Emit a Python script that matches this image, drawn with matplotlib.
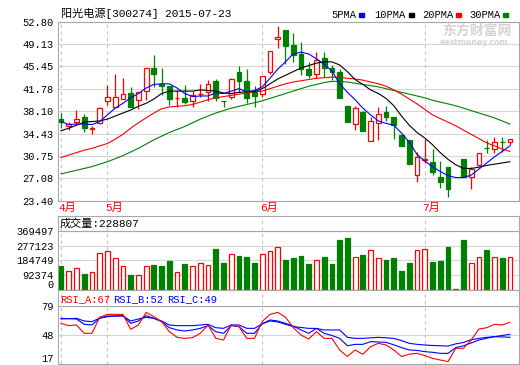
import matplotlib
matplotlib.use('Agg')
import matplotlib.pyplot as plt
from matplotlib.patches import Rectangle
import numpy as np

nan = np.nan

# 阳光电源[300274] 日K线, 截止 2015-07-23 (第51根为停牌日)
opens = [36.76, 35.75, 36.30, 37.12, 35.25, 36.10, 39.85, 38.85, 40.05, 41.03,
         39.94, 41.42, 45.20, 42.57, 42.24, 40.25, 40.32, 39.85, 40.90, 41.20,
         43.10, 39.80, 40.40, 44.55, 43.08, 41.30, 41.00, 44.59, 49.90, 51.44,
         48.97, 47.44, 45.03, 44.15, 46.78, 45.14, 44.59, 38.95, 36.00, 38.02,
         33.15, 36.11, 38.02, 37.09, 34.25, 33.40, 27.60, 30.15, 29.81, 27.35,
         28.99, nan, 30.25, 27.35, 29.20, 32.05, 31.83, 33.12, 32.98]
highs = [37.80, 36.38, 38.30, 37.64, 35.60, 38.74, 42.40, 44.20, 43.60, 42.02,
         41.20, 45.20, 47.33, 45.14, 42.24, 41.60, 42.40, 41.42, 42.50, 43.15,
         43.45, 39.80, 43.50, 45.50, 45.03, 42.20, 43.90, 47.99, 52.09, 51.44,
         50.90, 49.50, 46.24, 47.88, 47.88, 45.70, 45.03, 38.95, 38.95, 38.10,
         37.20, 38.84, 39.00, 37.20, 34.30, 33.45, 31.45, 33.48, 31.85, 29.97,
         28.99, nan, 30.25, 28.99, 31.18, 33.37, 33.80, 33.80, 33.48]
lows = [35.40, 35.01, 35.83, 34.65, 34.35, 36.00, 39.20, 38.85, 40.05, 38.74,
        38.41, 39.94, 42.13, 40.76, 39.12, 38.80, 39.30, 38.74, 40.50, 39.77,
        39.77, 38.85, 40.10, 41.20, 39.40, 38.84, 40.40, 44.15, 48.43, 45.80,
        46.24, 44.05, 43.50, 43.50, 43.77, 43.20, 40.32, 36.38, 35.00, 34.90,
        33.15, 33.37, 36.50, 33.55, 32.40, 29.37, 26.55, 29.60, 27.70, 25.54,
        23.95, nan, 27.30, 25.27, 29.10, 31.18, 31.18, 31.45, 32.55]
closes = [36.38, 35.95, 36.76, 35.29, 35.32, 38.57, 40.38, 40.45, 40.90, 38.85,
          41.20, 45.20, 44.15, 42.24, 40.05, 40.35, 39.67, 40.76, 41.00, 42.55,
          40.35, 39.75, 43.39, 43.10, 40.35, 40.65, 43.88, 47.99, 50.34, 48.86,
          47.33, 45.03, 44.05, 46.51, 45.25, 44.59, 40.35, 36.38, 38.57, 34.90,
          36.49, 37.64, 37.09, 35.83, 32.44, 29.37, 30.63, 30.25, 28.17, 26.53,
          25.32, nan, 27.35, 28.60, 31.18, 32.00, 32.98, 33.08, 33.48]
volumes = [147000, 120000, 139000, 101000, 114000, 232000, 244000, 202000, 152000, 90000,
           95000, 152000, 158000, 152000, 183000, 112000, 164000, 152000, 170000, 158000,
           259000, 170000, 227000, 215000, 208000, 170000, 225000, 246000, 272000, 189000,
           202000, 215000, 164000, 189000, 208000, 164000, 316000, 328000, 208000, 221000,
           253000, 202000, 189000, 202000, 120000, 170000, 253000, 259000, 177000, 183000,
           272000, 2500, 316000, 170000, 208000, 253000, 208000, 202000, 205000]

ma5 = [36.4, 35.9, 36.0, 36.0, 35.9, 36.4, 37.5, 38.6, 39.4, 40.3,
       41.0, 41.9, 42.5, 42.6, 42.6, 41.9, 41.0, 40.5, 40.6, 40.6,
       41.1, 41.0, 41.4, 41.8, 41.3, 41.5, 42.1, 43.5, 45.0, 46.2,
       47.5, 47.8, 47.5, 46.7, 45.8, 44.7, 42.6, 41.2, 40.0, 38.6,
       37.5, 36.5, 36.1, 35.8, 34.5, 33.0, 31.0, 29.9, 29.0, 28.2,
       27.5, 27.2, 27.2, 27.6, 28.6, 29.6, 30.6, 31.5, 32.4]
ma10 = [34.9, 35.3, 35.8, 36.3, 36.4, 36.5, 36.8, 37.3, 37.8, 38.3,
        38.9, 39.4, 40.1, 41.0, 41.4, 41.4, 41.4, 41.4, 41.6, 41.5,
        41.4, 41.1, 41.0, 41.2, 41.3, 41.3, 41.8, 42.6, 43.4, 44.0,
        44.6, 45.2, 45.6, 46.0, 46.2, 46.2, 45.7, 44.6, 43.3, 42.5,
        41.6, 41.0, 40.2, 39.0, 37.3, 35.8, 34.6, 33.7, 32.6, 31.3,
        30.2, 29.3, 28.7, 28.7, 28.9, 29.2, 29.4, 29.6, 29.8]
ma20 = [30.5, 30.9, 31.3, 31.7, 32.0, 32.4, 32.8, 33.5, 34.3, 35.3,
        36.2, 37.0, 37.8, 38.5, 38.8, 38.9, 39.0, 39.2, 39.6, 40.0,
        40.3, 40.5, 40.7, 40.9, 41.1, 41.3, 41.4, 41.8, 42.2, 42.6,
        42.9, 43.1, 43.3, 43.5, 43.6, 43.7, 43.7, 43.5, 43.4, 43.2,
        42.9, 42.6, 42.2, 41.6, 40.9, 40.1, 39.3, 38.4, 37.5, 36.9,
        36.3, 35.7, 35.0, 34.3, 33.6, 32.9, 32.4, 31.9, 31.5]
ma30 = [27.8, 28.1, 28.4, 28.7, 29.0, 29.4, 29.8, 30.3, 30.8, 31.4,
        32.0, 32.7, 33.4, 34.0, 34.6, 35.1, 35.6, 36.2, 36.8, 37.3,
        37.8, 38.2, 38.6, 38.9, 39.2, 39.5, 39.8, 40.2, 40.6, 41.0,
        41.4, 41.8, 42.2, 42.5, 42.8, 43.0, 43.0, 42.9, 42.7, 42.5,
        42.3, 42.1, 41.8, 41.5, 41.2, 40.9, 40.6, 40.3, 39.9, 39.6,
        39.3, 39.0, 38.6, 38.2, 37.8, 37.4, 37.0, 36.5, 36.0]

rsi_a = [60.4, 58.0, 58.7, 49.8, 49.8, 67.0, 70.1, 70.1, 70.1, 54.1,
         58.7, 72.2, 67.6, 62.3, 51.6, 45.5, 44.4, 45.2, 49.8, 58.7,
         44.4, 42.7, 58.7, 56.9, 44.4, 44.4, 62.5, 70.0, 72.2, 67.0,
         56.0, 48.0, 43.7, 51.6, 44.4, 44.4, 32.0, 25.0, 32.0, 27.3,
         35.5, 39.1, 37.3, 32.0, 25.0, 27.5, 28.4, 26.0, 23.0, 21.3,
         19.5, 33.8, 33.8, 42.7, 54.4, 55.8, 59.4, 58.7, 61.5]
rsi_b = [65.8, 65.5, 65.1, 59.5, 58.7, 66.0, 68.3, 68.3, 68.7, 60.5,
         63.0, 68.7, 65.8, 62.3, 55.8, 53.4, 52.3, 53.4, 55.1, 58.0,
         51.6, 49.8, 58.0, 56.9, 49.8, 49.8, 60.0, 64.0, 63.0, 60.5,
         57.5, 53.5, 49.8, 55.1, 49.8, 47.5, 44.4, 36.5, 38.0, 38.0,
         40.9, 40.5, 40.2, 37.5, 34.5, 32.0, 31.5, 30.2, 29.5, 28.4,
         28.4, 34.5, 36.5, 39.5, 42.7, 44.5, 46.2, 47.5, 48.7]
rsi_c = [65.1, 65.5, 65.8, 63.0, 62.3, 66.0, 67.6, 68.3, 68.3, 63.0,
         65.1, 66.9, 65.8, 63.0, 58.7, 58.0, 58.0, 58.0, 58.7, 59.4,
         55.8, 55.1, 58.7, 58.7, 55.1, 55.1, 60.0, 63.0, 62.0, 59.5,
         57.0, 56.0, 55.1, 55.0, 53.4, 53.4, 53.4, 45.5, 44.4, 44.4,
         45.0, 45.5, 45.0, 44.4, 42.0, 39.1, 38.0, 37.3, 36.8, 36.5,
         36.2, 38.5, 40.0, 43.0, 44.4, 45.5, 46.2, 46.0, 45.5]

month_labels = ['4月', '5月', '6月', '7月']
month_starts = [0, 6, 26, 47]

price_ticks = [23.40, 27.08, 30.75, 34.43, 38.10, 41.78, 45.45, 49.13, 52.80]
vol_ticks = [0, 92374, 184749, 277123, 369497]
rsi_ticks = [17, 48, 79]

plt.rcParams['font.family'] = ['Liberation Mono', 'Noto Sans CJK SC', 'DejaVu Sans']
plt.rcParams['font.size'] = 7.5

RED = '#ff0000'
GREEN = '#008000'
BLUE = '#0000ff'
FRAME = '#a8a8a8'
GRID = '#d6d6d6'

W, H = 520, 365
fig = plt.figure(figsize=(W / 100, H / 100), dpi=100)
fig.patch.set_facecolor('white')


def fx(px):
    return px / W


def fy(py):
    return 1 - py / H


left, right = 58, 518.5
x0, step = 61, 7.74
xlim = (-(x0 - left) / step, (right - x0) / step)

ax_p = fig.add_axes([fx(left), fy(200.7), (right - left) / W, (200.7 - 21.7) / H])
ax_v = fig.add_axes([fx(left), fy(289.5), (right - left) / W, (289.5 - 215.7) / H])
ax_r = fig.add_axes([fx(left), fy(364), (right - left) / W, (364 - 289.5) / H])

x = np.arange(len(closes))
o = np.array(opens)
c = np.array(closes)
up = ~(c < o)


def style(ax):
    for s in ax.spines.values():
        s.set_color(FRAME)
        s.set_linewidth(0.8)
    ax.set_xticks([])
    ax.set_xlim(*xlim)
    ax.tick_params(axis='y', length=0, pad=3, labelsize=7.5)
    ax.grid(axis='y', color=GRID, lw=0.8)
    ax.set_axisbelow(True)
    for m in month_starts:
        ax.axvline(m, color='#c4c4c4', ls=(0, (3, 3)), lw=0.8, zorder=1)


# K线
style(ax_p)
ax_p.set_ylim(23.40, 52.80)
ax_p.set_yticks(price_ticks)
ax_p.set_yticklabels(['%.2f' % t for t in price_ticks])
ax_p.vlines(x[up], np.array(lows)[up], np.array(highs)[up], color=RED, lw=0.9, zorder=2)
ax_p.vlines(x[~up], np.array(lows)[~up], np.array(highs)[~up], color=GREEN, lw=0.9, zorder=2)
body_lo = np.minimum(o, c)
body_h = np.abs(c - o)
ax_p.bar(x[up], body_h[up], bottom=body_lo[up], width=0.62, facecolor='white',
         edgecolor=RED, lw=0.9, zorder=3)
ax_p.bar(x[~up], body_h[~up], bottom=body_lo[~up], width=0.62, facecolor=GREEN,
         edgecolor=GREEN, lw=0.9, zorder=3)
ax_p.plot(x, ma30, color=GREEN, lw=0.8, zorder=4)
ax_p.plot(x, ma20, color=RED, lw=0.8, zorder=4)
ax_p.plot(x, ma10, color='black', lw=0.8, zorder=4)
ax_p.plot(x, ma5, color=BLUE, lw=0.8, zorder=4)

for lab, m in zip(month_labels, month_starts):
    ax_p.text(m - 0.3, -0.038, lab, transform=ax_p.get_xaxis_transform(),
              ha='left', va='center', color=RED, fontsize=8, clip_on=False)

# 成交量
style(ax_v)
vol_top = 369497 * (289.5 - 215.7) / (289.5 - 231.2)
ax_v.set_ylim(0, vol_top)
ax_v.set_yticks(vol_ticks)
ax_v.set_yticklabels([str(t) for t in vol_ticks])
ax_v.get_yticklabels()[0].set_va('bottom')
ax_v.axhline(vol_ticks[-1], color=FRAME, lw=0.8, zorder=5)
v = np.array(volumes)
ax_v.bar(x[up], v[up], width=0.62, facecolor='white', edgecolor=RED, lw=0.9, zorder=3)
ax_v.bar(x[~up], v[~up], width=0.62, facecolor=GREEN, edgecolor=GREEN, lw=0.9, zorder=3)

# RSI
style(ax_r)
rsi_top = 17 + (364 - 289.5) * 62 / 58
ax_r.set_ylim(17, rsi_top)
ax_r.set_yticks(rsi_ticks)
ax_r.set_yticklabels([str(t) for t in rsi_ticks])
ax_r.get_yticklabels()[0].set_va('bottom')
ax_r.axhline(79, color=FRAME, lw=0.8, zorder=5)
ax_r.plot(x, rsi_c, color=BLUE, lw=0.8, zorder=3)
ax_r.plot(x, rsi_b, color=BLUE, lw=0.8, zorder=3)
ax_r.plot(x, rsi_a, color=RED, lw=0.8, zorder=4)

# 标题、图例、水印
fig.text(fx(61), fy(13.5), '阳光电源[300274] 2015-07-23', va='center', fontsize=8)
legend = [('5PMA', BLUE, 331, 359), ('10PMA', 'black', 374, 409),
          ('20PMA', RED, 422, 456), ('30PMA', GREEN, 469, 503)]
for name, col, tx, sx in legend:
    fig.text(fx(tx), fy(14.5), name, va='center', fontsize=7.5)
    fig.patches.append(Rectangle((fx(sx), fy(16.7)), 5 / W, 4 / H,
                                 transform=fig.transFigure, color=col))
fig.text(fx(442), fy(31), '东方财富网', va='center', fontsize=10, color='#d4d4d4',
         fontweight='bold', family=['Noto Sans CJK SC'], zorder=0)
fig.text(fx(440), fy(42.5), 'eastmoney.com', va='center', fontsize=5.6, color='#d4d4d4',
         fontweight='bold', family=['DejaVu Sans'], zorder=0)

fig.text(fx(59.5), fy(224), '成交量:228807', va='center', fontsize=8)
fig.text(fx(60), fy(299), 'RSI_A:67', va='center', fontsize=7.5, color=RED)
fig.text(fx(113), fy(299), 'RSI_B:52', va='center', fontsize=7.5, color=BLUE)
fig.text(fx(167), fy(299), 'RSI_C:49', va='center', fontsize=7.5, color=BLUE)

fig.savefig('out.png', dpi=100)
